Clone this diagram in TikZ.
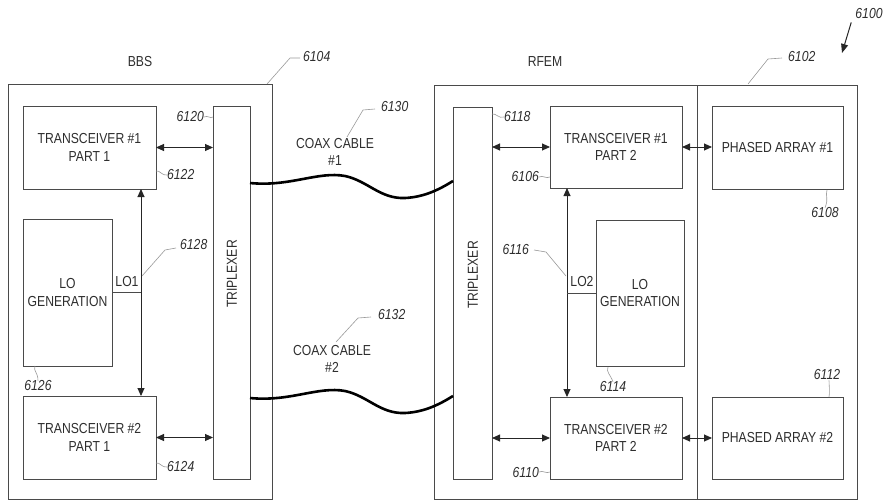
\documentclass[tikz,border=0pt]{standalone}
\usepackage{fontspec}
\setmainfont{Liberation Sans}[FakeStretch=0.84]
\usetikzlibrary{arrows.meta,calc}
\definecolor{ln}{HTML}{4A4A4A}
\definecolor{tx}{HTML}{2E2E2E}
\definecolor{ld}{HTML}{9A9A9A}
\begin{document}
\begin{tikzpicture}[x=1pt,y=-1pt,
  blk/.style={draw=ln, line width=0.9pt, fill=white, inner sep=0pt, outer sep=0pt,
    align=center, text=tx, font=\fontsize{14.5}{17.5}\selectfont},
  frame/.style={draw=ln, line width=0.9pt},
  txt/.style={text=tx, inner sep=0pt, font=\fontsize{14.5}{17.5}\selectfont, align=center},
  num/.style={text=tx, inner sep=0pt, font=\fontsize{14.5}{16}\selectfont\itshape},
  lead/.style={draw=ld, line width=0.6pt},
  biarrow/.style={draw=black!85, line width=0.9pt, {Triangle[length=8pt,width=7pt]}-{Triangle[length=8pt,width=7pt]}},
  cable/.style={draw=black, line width=2.6pt}
]
\path[use as bounding box] (0,0) rectangle (883,501);

% outer boxes
\node[blk, minimum width=264, minimum height=415] (bbs) at (140,291.5) {};
\node[blk, minimum width=423, minimum height=414] (rfem) at (645.5,292) {};
\coordinate (dv) at (697,0);
\draw[frame] (rfem.north -| dv) -- (rfem.south -| dv);
\node[txt] (bbslbl) at (140,62) {BBS};
\node[txt] (rfemlbl) at (545,62) {RFEM};

% BBS blocks
\node[blk, minimum width=133, minimum height=83] (t1a) at (89.5,147.5) {TRANSCEIVER \#1\\PART 1};
\node[blk, minimum width=89, minimum height=147] (lo1) at (67.5,292.5) {LO\\GENERATION};
\node[blk, minimum width=133, minimum height=83] (t2a) at (89.5,437.5) {TRANSCEIVER \#2\\PART 1};
\node[blk, minimum width=37, minimum height=373] (tri1) at (231.5,292.5) {};
\node[txt, rotate=90] (tri1t) at (232,274) {TRIPLEXER};

% RFEM blocks
\node[blk, minimum width=39, minimum height=372] (tri2) at (472.5,293) {};
\node[txt, rotate=90] (tri2t) at (473,275) {TRIPLEXER};
\node[blk, minimum width=132, minimum height=82] (t1b) at (616,147) {TRANSCEIVER \#1\\PART 2};
\node[blk, minimum width=88, minimum height=146] (lo2) at (640,293) {LO\\GENERATION};
\node[blk, minimum width=132, minimum height=82] (t2b) at (616,438) {TRANSCEIVER \#2\\PART 2};
\node[blk, minimum width=131, minimum height=83] (pa1) at (777.5,147.5) {PHASED ARRAY \#1};
\node[blk, minimum width=131, minimum height=82] (pa2) at (777.5,438) {PHASED ARRAY \#2};

% horizontal arrows
\draw[biarrow] (t1a.east) -- (t1a.east -| tri1.west);
\draw[biarrow] (t2a.east) -- (t2a.east -| tri1.west);
\draw[biarrow] (t1b.west -| tri2.east) -- (t1b.west);
\draw[biarrow] (t2b.west -| tri2.east) -- (t2b.west);
\draw[biarrow] (t1b.east) -- (t1b.east -| pa1.west);
\draw[biarrow] (t2b.east) -- (t2b.east -| pa2.west);

% LO distribution
\coordinate (v1) at (141,0);
\coordinate (v2) at (567,0);
\draw[biarrow] (t1a.south -| v1) -- (t2a.north -| v1);
\draw[biarrow] (t1b.south -| v2) -- (t2b.north -| v2);
\draw[frame] (lo1.east) -- (lo1.east -| v1);
\draw[frame] (lo2.west) -- (lo2.west -| v2);
\node[txt] (lo1t) at (127,282) {LO1};
\node[txt] (lo2t) at (582,282) {LO2};

% coax cables
\coordinate (c1) at (0,183);
\coordinate (c1r) at (0,181);
\coordinate (c2) at (0,398);
\coordinate (c2r) at (0,396);
\draw[cable] (tri1.east |- c1) .. controls (290,187) and (318,171) .. (345,176)
  .. controls (368,181) and (380,199) .. (405,198)
  .. controls (425,197) and (440,189) .. (tri2.west |- c1r);
\draw[cable] (tri1.east |- c2) .. controls (290,402) and (318,386) .. (345,391)
  .. controls (368,396) and (380,414) .. (405,413)
  .. controls (425,412) and (440,404) .. (tri2.west |- c2r);
\node[txt] (cc1) at (335,152) {COAX CABLE\\\#1};
\node[txt] (cc2) at (332,359) {COAX CABLE\\\#2};

% reference numerals
\node[num, anchor=west] (n6104) at (303,57) {6104};
\draw[lead] (267,84) -- (290,58) -- (300,58);
\node[num, anchor=west] (n6102) at (788,57) {6102};
\draw[lead] (748,84) -- (768,59) -- (782,58);
\node[num] (n6100) at (869,14) {6100};
\coordinate (a6100) at (842,53);
\draw[draw=black!85, line width=1pt, -{Triangle[length=9pt,width=7pt]}] (n6100.south west) ++(-4,3) -- (a6100);

\node[num, anchor=east] (n6120) at (204,117) {6120};
\draw[lead] (n6120.east) .. controls (208,115) and (210,119) .. (tri1.west |- n6120.east);
\node[num, anchor=west] (n6122) at (167,175) {6122};
\draw[lead] (t1a.east |- 0,171) .. controls (160,170) and (162,176) .. (n6122.west);
\node[num, anchor=west] (n6128) at (180,245) {6128};
\draw[lead] (142,276) -- (165,250) -- (176,248);
\node[num] (n6126) at (38,386) {6126};
\draw[lead] (35,366) .. controls (33,371) and (38,372) .. (n6126.north);
\node[num, anchor=west] (n6124) at (167,467) {6124};
\draw[lead] (t2a.east |- 0,463) .. controls (160,462) and (162,468) .. (n6124.west);

\node[num, anchor=west] (n6130) at (381,107) {6130};
\draw[lead] (347,137) -- (363,110) -- (375,109);
\node[num, anchor=west] (n6132) at (378,315) {6132};
\draw[lead] (336,342) -- (358,318) -- (371,317);

\node[num, anchor=west] (n6118) at (504,117) {6118};
\draw[lead] (tri2.east |- 0,114) .. controls (496,113) and (499,119) .. (n6118.west);
\node[num, anchor=east] (n6106) at (539,177) {6106};
\draw[lead] (n6106.east) .. controls (543,175) and (546,179) .. (t1b.west |- n6106.east);
\node[num, anchor=east] (n6116) at (529,250) {6116};
\draw[lead] (534,250) -- (546,252) -- (566,276);
\node[num] (n6114) at (613,387) {6114};
\draw[lead] (608,367) .. controls (606,372) and (610,374) .. (n6114.north);
\node[num, anchor=east] (n6110) at (539,472) {6110};
\draw[lead] (n6110.east) .. controls (543,470) and (546,474) .. (t2b.west |- n6110.east);
\node[num] (n6108) at (825,213) {6108};
\draw[lead] (827,190) .. controls (825,196) and (829,198) .. (n6108.north);
\node[num] (n6112) at (827,375) {6112};
\draw[lead] (n6112.south) ++(2,0) .. controls +(0,4) and +(1,-4) .. (829,397);
\end{tikzpicture}
\end{document}
